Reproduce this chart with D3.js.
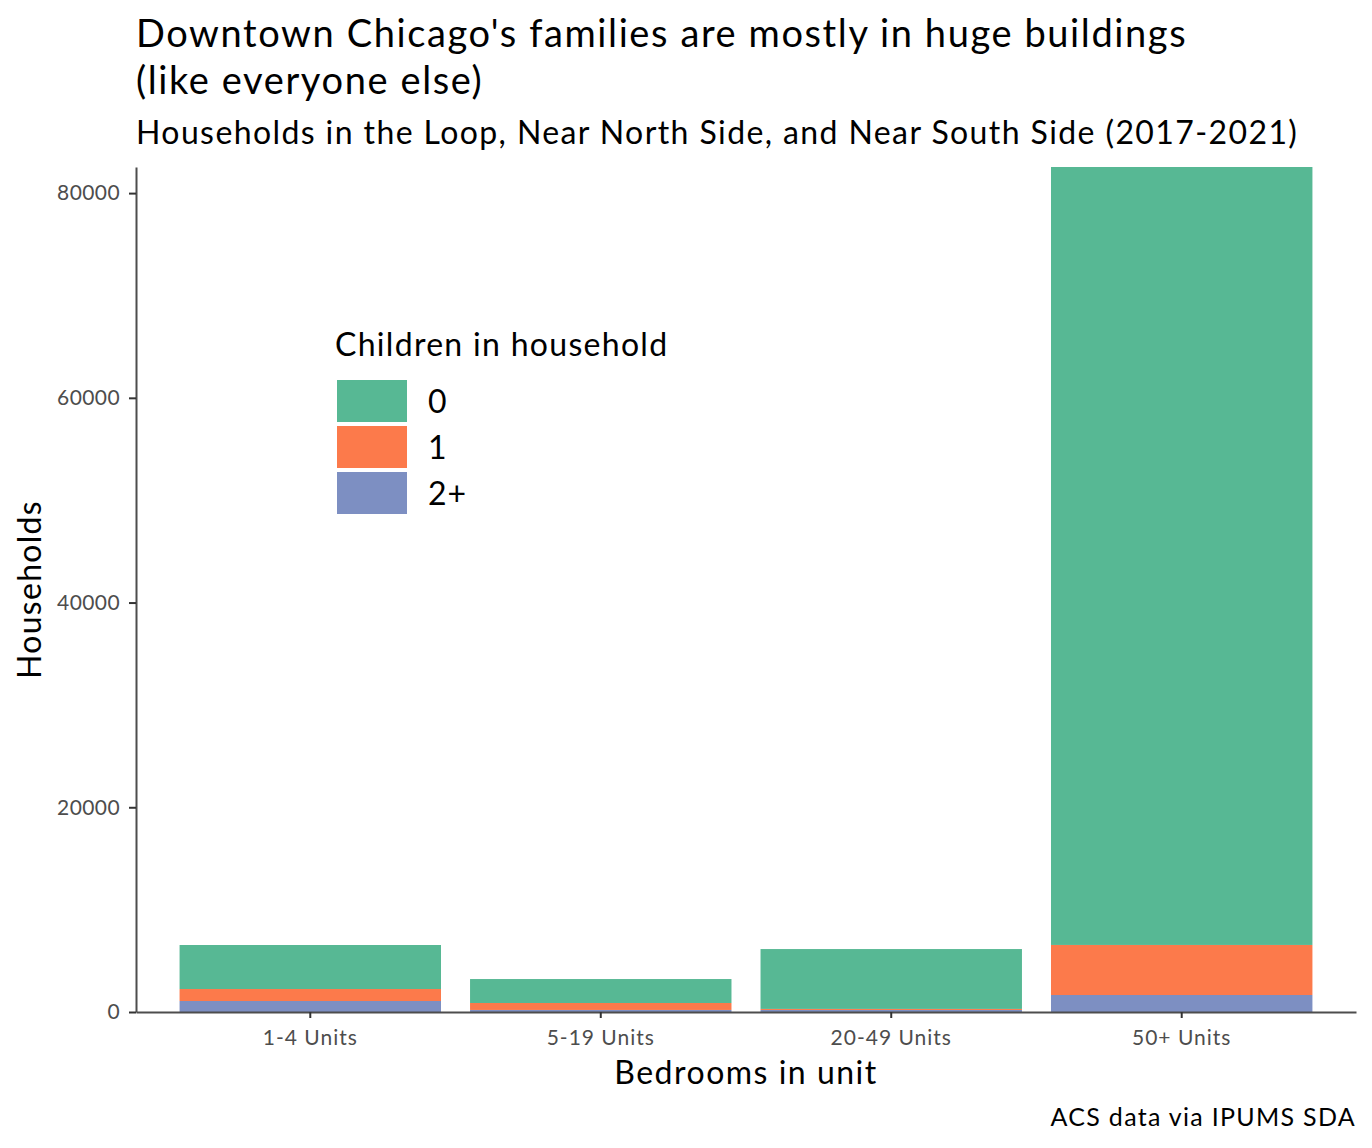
<!DOCTYPE html>
<html>
<head>
<meta charset="utf-8">
<script src="https://cdn.jsdelivr.net/npm/d3@7"></script>
<style>
  body { margin: 0; background: #fff; }
  text { font-family: Lato, "Open Sans", sans-serif; }
</style>
</head>
<body>
<div id="chart"></div>
<script>
// categories and stacked series (households)
const categories = ['1-4 Units', '5-19 Units', '20-49 Units', '50+ Units'];
const keys = ['0', '1', '2+'];
const kids0 = [4300, 2340, 5850, 76000];
const kids1 = [1170, 680, 100, 4890];
const kids2 = [1075, 200, 200, 1660];
const yTicks = [0, 20000, 40000, 60000, 80000];
const colors = ['#57b894', '#fc7a4b', '#7d8fc2'];

const rows = categories.map((c, i) => ({ cat: c, '0': kids0[i], '1': kids1[i], '2+': kids2[i] }));

const W = 1372, H = 1148;
const margin = { left: 136, right: 16, top: 167, bottom: 136 };

const svg = d3.select('#chart').append('svg')
  .attr('width', W)
  .attr('height', H);

// stack from the bottom: 2+ first, then 1, then 0
const stack = d3.stack().keys(['2+', '1', '0']);
const series = stack(rows);

const x = d3.scaleBand()
  .domain(categories)
  .range([margin.left, W - margin.right])
  .paddingInner(0.1)
  .paddingOuter(0.15);

const y = d3.scaleLinear()
  .domain([0, d3.max(series[series.length - 1], d => d[1])])
  .range([H - margin.bottom, margin.top]);

svg.append('g')
  .selectAll('g')
  .data(series)
  .enter()
  .append('g')
  .attr('fill', d => colors[keys.indexOf(d.key)])
  .selectAll('rect')
  .data(d => d)
  .enter()
  .append('rect')
  .attr('x', d => x(d.data.cat))
  .attr('width', x.bandwidth())
  .attr('y', d => y(d[1]))
  .attr('height', d => y(d[0]) - y(d[1]));

// axes
const xAxis = svg.append('g')
  .attr('transform', `translate(0,${H - margin.bottom})`)
  .call(d3.axisBottom(x).tickSize(6).tickSizeOuter(0));
const yAxis = svg.append('g')
  .attr('transform', `translate(${margin.left},0)`)
  .call(d3.axisLeft(y).tickValues(yTicks).tickFormat(d3.format('d')).tickSize(7).tickSizeOuter(0));

[xAxis, yAxis].forEach(a => {
  a.select('.domain').attr('stroke', '#4d4d4d').attr('stroke-width', 2);
  a.selectAll('.tick line').attr('stroke', '#333').attr('stroke-width', 2);
  a.selectAll('.tick text')
    .attr('fill', '#4d4d4d')
    .style('font-size', '21px')
    .style('font-family', 'Lato, sans-serif');
});
xAxis.selectAll('.tick text').attr('dy', '1.12em').style('letter-spacing', '1px');
yAxis.selectAll('.tick text').attr('dx', '-6px').style('letter-spacing', '0.4px');

// titles
svg.append('text')
  .attr('x', 136).attr('y', 47)
  .style('font-size', '38px')
  .style('letter-spacing', '1.6px')
  .text("Downtown Chicago's families are mostly in huge buildings");
svg.append('text')
  .attr('x', 136).attr('y', 94)
  .style('font-size', '38px')
  .style('letter-spacing', '1.6px')
  .text('(like everyone else)');
svg.append('text')
  .attr('x', 136).attr('y', 144)
  .style('font-size', '32px')
  .style('letter-spacing', '1.4px')
  .text('Households in the Loop, Near North Side, and Near South Side (2017-2021)');

svg.append('text')
  .attr('x', (margin.left + W - margin.right) / 2).attr('y', 1084)
  .attr('text-anchor', 'middle')
  .style('font-size', '32px')
  .style('letter-spacing', '1.5px')
  .text('Bedrooms in unit');

svg.append('text')
  .attr('transform', `translate(41,${(margin.top + H - margin.bottom) / 2}) rotate(-90)`)
  .attr('text-anchor', 'middle')
  .style('font-size', '32px')
  .style('letter-spacing', '1.3px')
  .text('Households');

svg.append('text')
  .attr('x', W - margin.right).attr('y', 1126)
  .attr('text-anchor', 'end')
  .style('font-size', '25px')
  .style('letter-spacing', '1.3px')
  .text('ACS data via IPUMS SDA');

// legend
const legend = svg.append('g').attr('transform', 'translate(335,356)');
legend.append('text')
  .attr('x', 0).attr('y', 0)
  .style('font-size', '32px')
  .style('letter-spacing', '1.3px')
  .text('Children in household');
const item = legend.selectAll('g.key')
  .data(keys)
  .enter()
  .append('g')
  .attr('class', 'key')
  .attr('transform', (d, i) => `translate(0,${23 + i * 46})`);
item.append('rect')
  .attr('x', 1).attr('width', 72).attr('height', 44)
  .attr('fill', (d, i) => colors[i])
  .attr('stroke', '#fff').attr('stroke-width', 2);
item.append('text')
  .attr('x', 93).attr('y', 34)
  .style('font-size', '32px')
  .style('letter-spacing', '1px')
  .text(d => d);
</script>
</body>
</html>
